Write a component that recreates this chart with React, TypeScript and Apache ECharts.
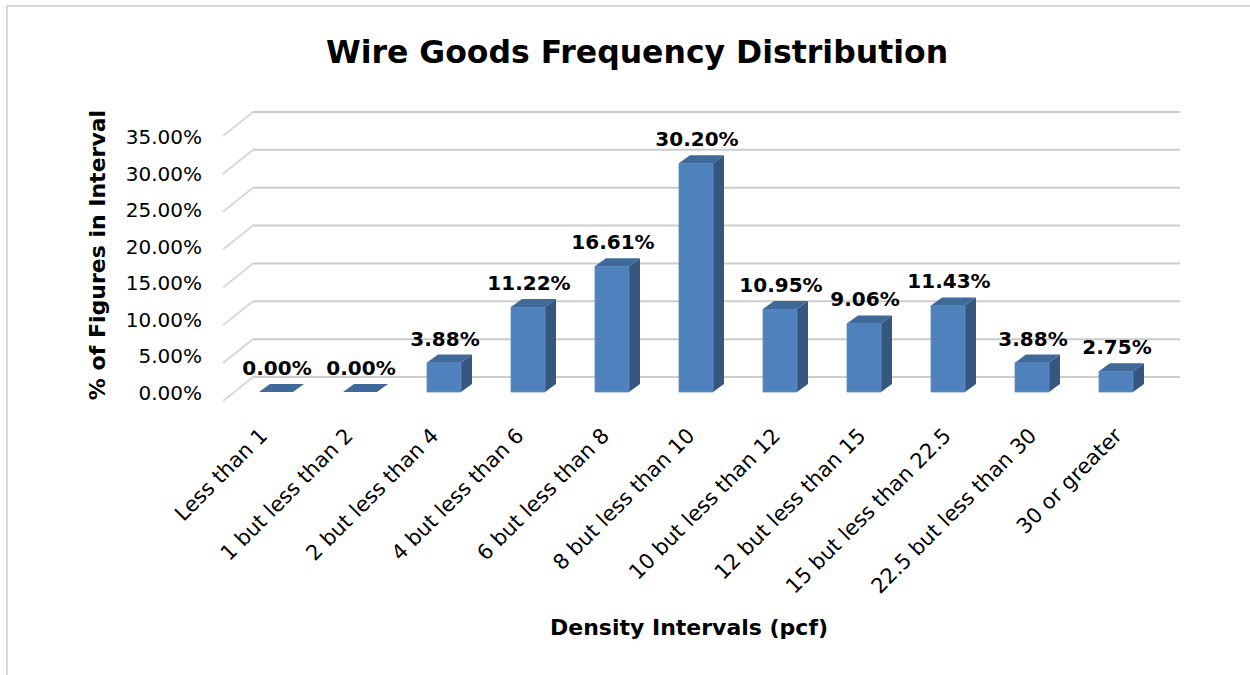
import React, { useEffect, useRef } from "react";
import * as echarts from "echarts";

const categories = [
  "Less than 1",
  "1 but less than 2",
  "2 but less than 4",
  "4 but less than 6",
  "6 but less than 8",
  "8 but less than 10",
  "10 but less than 12",
  "12 but less than 15",
  "15 but less than 22.5",
  "22.5 but less than 30",
  "30 or greater",
];
const percentValues = [0.0, 0.0, 3.88, 11.22, 16.61, 30.2, 10.95, 9.06, 11.43, 3.88, 2.75];
const yTickValues = [0, 5, 10, 15, 20, 25, 30, 35];

const FONT = "DejaVu Sans";
const FRONT = "#4F81BD";
const SIDE = "#34567F";
const TOP = "#3E6999";
const DX = 11;
const DY = -8;

export default function App() {
  const ref = useRef<HTMLDivElement>(null);
  useEffect(() => {
    document.body.style.margin = "0";
    if (!ref.current) return;
    const chart = echarts.init(ref.current, undefined, { renderer: "svg" });
    const option: any = {
      animation: false,
      backgroundColor: "#ffffff",
      title: {
        text: "Wire Goods Frequency Distribution",
        left: 632,
        top: 31,
        textAlign: "center",
        textStyle: { fontFamily: FONT, fontSize: 31.5, fontWeight: "bold", color: "#000" },
      },
      grid: [
        { left: 234, right: 92, top: 127, bottom: 283 },
        { left: 210, width: 10, top: 137, height: 256 },
        { left: 221, right: 89, top: 127, bottom: 283 },
      ],
      xAxis: [
        {
          type: "category",
          gridIndex: 0,
          data: categories,
          axisLine: { show: false },
          axisTick: { show: false },
          axisLabel: { show: false },
        },
        { type: "category", gridIndex: 1, data: ["a"], show: false },
        {
          type: "category",
          gridIndex: 2,
          data: categories,
          axisLine: { show: false },
          axisTick: { show: false },
          axisLabel: {
            rotate: 45,
            interval: 0,
            margin: 40,
            fontFamily: FONT,
            fontSize: 21,
            color: "#000",
          },
        },
      ],
      yAxis: [
        {
          type: "value",
          gridIndex: 0,
          min: 0,
          max: 35,
          interval: 5,
          axisLabel: { show: false },
          splitLine: { show: false },
          axisLine: { show: false },
        },
        {
          type: "value",
          gridIndex: 1,
          min: 0,
          max: 35,
          interval: 5,
          axisLine: { show: false },
          axisTick: { show: false },
          splitLine: { show: false },
          axisLabel: {
            margin: 8,
            fontFamily: FONT,
            fontSize: 20,
            color: "#000",
            formatter: (v: number) => v.toFixed(2) + "%",
          },
        },
        {
          type: "value",
          gridIndex: 2,
          min: 0,
          max: 35,
          interval: 5,
          show: false,
        },
      ],
      series: [
        {
          type: "custom",
          xAxisIndex: 0,
          yAxisIndex: 0,
          data: yTickValues.map((v) => [0, v]),
          silent: true,
          z: 1,
          renderItem: (params: any, api: any) => {
            const y = api.coord([0, api.value(1)])[1];
            const cs = params.coordSys;
            return {
              type: "group",
              children: [
                {
                  type: "polyline",
                  shape: {
                    points: [
                      [cs.x - 11, y + 9],
                      [cs.x + 19, y - 15],
                    ],
                  },
                  style: { stroke: "#d9d9d9", lineWidth: 2, fill: null },
                },
                {
                  type: "polyline",
                  shape: {
                    points: [
                      [cs.x + 19, y - 15],
                      [cs.x + cs.width + 22, y - 15],
                    ],
                  },
                  style: { stroke: "#cccccc", lineWidth: 2, fill: null },
                },
              ],
            };
          },
        },
        {
          type: "custom",
          xAxisIndex: 0,
          yAxisIndex: 0,
          data: percentValues.map((v, i) => [i, v]),
          z: 5,
          renderItem: (params: any, api: any) => {
            const i = api.value(0);
            const v = api.value(1);
            const top = api.coord([i, v]);
            const base = api.coord([i, 0]);
            const band = api.size([1, 0])[0];
            const w = band * 0.405;
            const x0 = top[0] - w / 2;
            const x1 = top[0] + w / 2;
            const yt = top[1];
            const yb = base[1];
            const children: any[] = [];
            if (yb - yt > 0.5) {
              children.push({
                type: "polygon",
                shape: { points: [[x1, yt], [x1 + DX, yt + DY], [x1 + DX, yb + DY], [x1, yb]] },
                style: { fill: SIDE },
              });
              children.push({
                type: "rect",
                shape: { x: x0, y: yt, width: w, height: yb - yt },
                style: { fill: FRONT, stroke: "#5d8ec8", lineWidth: 0.8 },
              });
            }
            children.push({
              type: "polygon",
              shape: { points: [[x0, yt], [x1, yt], [x1 + DX, yt + DY], [x0 + DX, yt + DY]] },
              style: { fill: TOP },
            });
            children.push({
              type: "text",
              x: top[0] + 1,
              y: yt - 24,
              style: {
                text: v.toFixed(2) + "%",
                align: "center",
                verticalAlign: "middle",
                fontFamily: FONT,
                fontSize: 20,
                fontWeight: "bold",
                fill: "#000",
              },
            });
            return { type: "group", children };
          },
        },
      ],
      graphic: [
        {
          type: "rect",
          shape: { x: 7, y: 6, width: 1300, height: 700 },
          style: { fill: null, stroke: "#d9d9d9", lineWidth: 2 },
          silent: true,
        },
        {
          type: "text",
          x: 689,
          y: 627,
          style: {
            text: "Density Intervals (pcf)",
            align: "center",
            verticalAlign: "middle",
            fontFamily: FONT,
            fontSize: 22,
            fontWeight: "bold",
            fill: "#000",
          },
        },
        {
          type: "text",
          x: 97,
          y: 255,
          rotation: Math.PI / 2,
          style: {
            text: "% of Figures in Interval",
            align: "center",
            verticalAlign: "middle",
            fontFamily: FONT,
            fontSize: 22,
            fontWeight: "bold",
            fill: "#000",
          },
        },
      ],
    };
    chart.setOption(option);
    return () => chart.dispose();
  }, []);
  return <div ref={ref} style={{ width: 1250, height: 675 }} />;
}
